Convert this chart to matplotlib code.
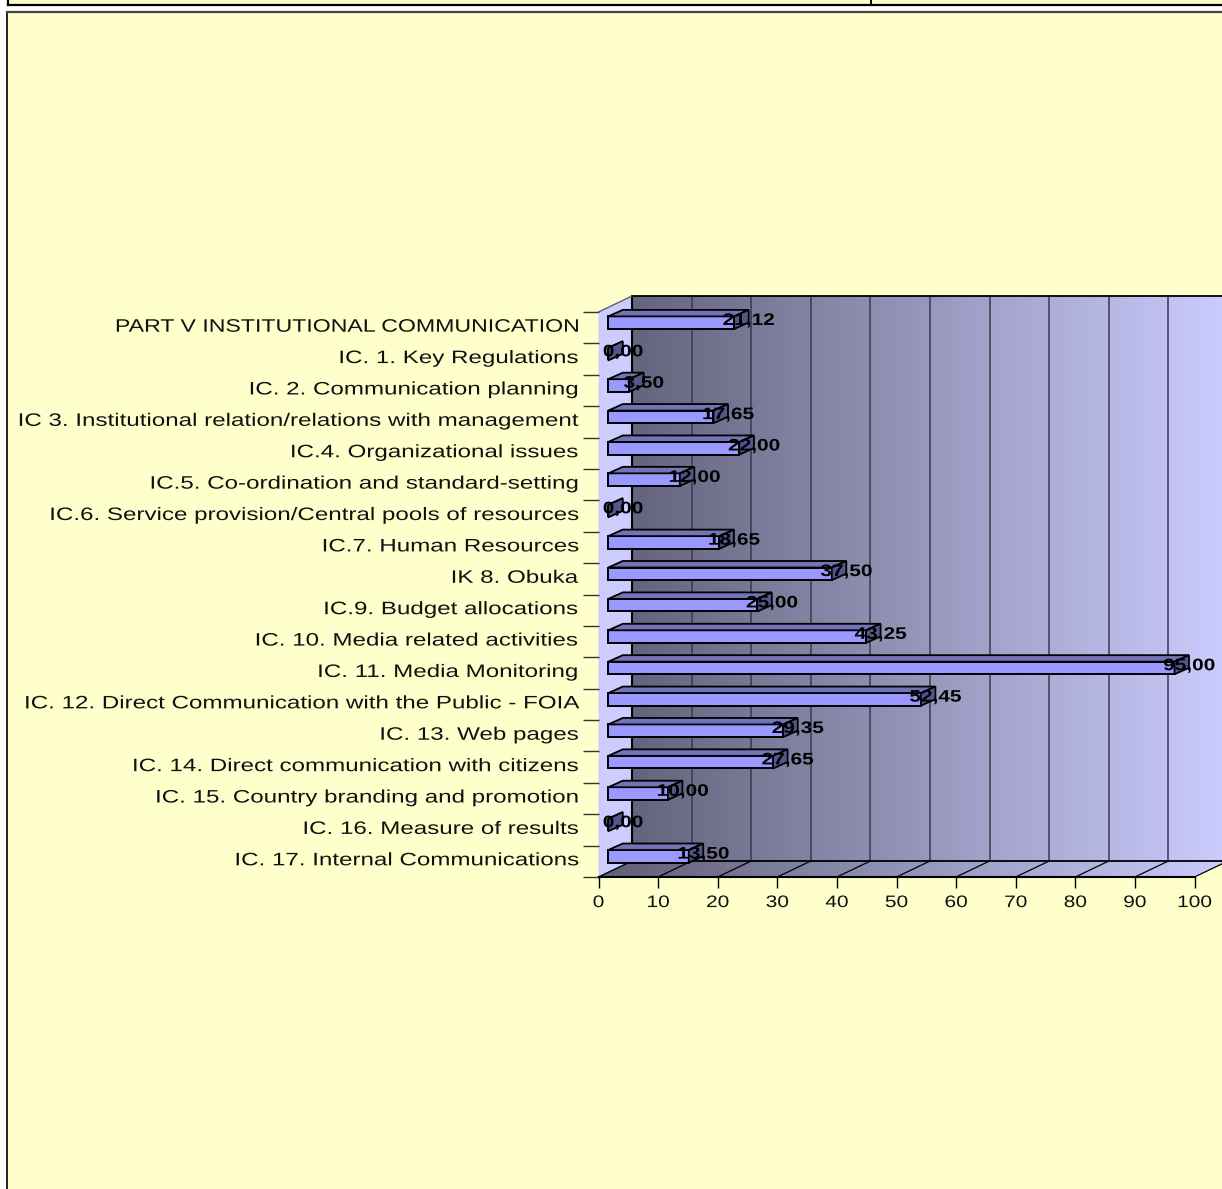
import numpy as np
import matplotlib
matplotlib.use("Agg")
import matplotlib.pyplot as plt
from matplotlib.colors import LinearSegmentedColormap
from matplotlib.patches import Polygon
from matplotlib.patheffects import AbstractPathEffect
from matplotlib.transforms import Affine2D

categories = [
    "PART V INSTITUTIONAL COMMUNICATION", "IC. 1. Key Regulations", "IC. 2. Communication planning",
    "IC 3. Institutional relation/relations with management", "IC.4. Organizational issues",
    "IC.5. Co-ordination and standard-setting", "IC.6. Service provision/Central pools of resources",
    "IC.7. Human Resources", "IK 8. Obuka", "IC.9. Budget allocations", "IC. 10. Media related activities",
    "IC. 11. Media Monitoring", "IC. 12. Direct Communication with the Public - FOIA", "IC. 13. Web pages",
    "IC. 14. Direct communication with citizens", "IC. 15. Country branding and promotion",
    "IC. 16. Measure of results", "IC. 17. Internal Communications",
]
values = [21.12, 0.00, 3.50, 17.65, 22.00, 12.00, 0.00, 18.65, 37.50, 25.00, 43.25, 95.00, 52.45, 29.35, 27.65, 10.00, 0.00, 13.50]
x_ticks = list(range(0, 101, 10))

W, H = 1222, 1189
BG = "#ffffcc"
fig = plt.figure(figsize=(W / 100, H / 100), dpi=100, facecolor="white")


class Stretch(AbstractPathEffect):
    """Widen a text horizontally about a display x position (the source font is a stretched Arial)."""
    def __init__(self, k, anchor, dy=0):
        super().__init__()
        self.k, self.anchor, self.dy = k, anchor, dy

    def draw_path(self, renderer, gc, tpath, affine, rgbFace=None):
        t = Affine2D().translate(-self.anchor, self.dy).scale(self.k, 1).translate(self.anchor, 0)
        renderer.draw_path(gc, tpath, affine + t, rgbFace)


# page frame
page = fig.add_axes([0, 0, 1, 1], zorder=0)
page.set_xlim(0, W); page.set_ylim(H, 0); page.axis("off")
page.fill([7, W, W, 7], [12, 12, H, H], color=BG, lw=0)
page.fill([8, W, W, 8], [0, 0, 4, 4], color=BG, lw=0)
page.plot([6.5, 6.5], [12, H], color="#222222", lw=1.4)
page.plot([6.5, W], [12, 12], color="#444444", lw=1.6)
page.plot([8, W], [4.5, 4.5], color="black", lw=1.6)
page.plot([8, 8], [0, 4.5], color="black", lw=1.6)
page.plot([871, 871], [0, 4.5], color="black", lw=1.4)

# plot axes: front plane of the 3D box
L, R, T, B = 598.5, 1194.5, 312.0, 877.0
ax = fig.add_axes([L / W, 1 - B / H, (R - L) / W, (B - T) / H], zorder=1)
n = len(categories)
ax.patch.set_visible(False)
for s in ax.spines.values():
    s.set_visible(False)

ux = (R - L) / 100
uy = (B - T) / n
# depth expressed in data units
DX, DY = 33.5 / ux, 16 / uy
FX, FY = 9.8 / ux, 5 / uy      # bar front-face offset
SX, SY = 14.5 / ux, 6.5 / uy   # bar depth
HALF = 6.3 / uy

top, bot = -0.5, n - 0.5
cmap = LinearSegmentedColormap.from_list("wall", ["#5e5e76", "#ccccff"])
grad = np.linspace(0, 1, 512).reshape(1, -1)

wall = Polygon([(DX, top - DY), (100 + DX, top - DY), (100 + DX, bot - DY), (DX, bot - DY)], closed=True, fc="none", lw=0)
floor = Polygon([(0, bot), (100, bot), (100 + DX, bot - DY), (DX, bot - DY)], closed=True, fc="none", lw=0)
ax.add_patch(wall); ax.add_patch(floor)
for clip in (wall, floor):
    im = ax.imshow(grad, cmap=cmap, aspect="auto", extent=(0, 100 + DX, bot, top - DY), zorder=1)
    im.set_clip_path(clip)
    im.set_clip_box(fig.bbox)
ax.set_xlim(0, 100)
ax.set_ylim(bot, top)

ax.add_patch(Polygon([(0, top), (DX, top - DY), (DX, bot - DY), (0, bot)], closed=True, fc="#ccccff", ec="none", zorder=1.5, clip_on=False))


def ln(xs, ys, **kw):
    kw.setdefault("clip_on", False)
    ax.plot(xs, ys, **kw)


for t in x_ticks[1:]:
    if t < 100:
        ln([t + DX, t + DX], [top - DY, bot - DY], color="#3a3a4c", lw=1.4, alpha=0.8, zorder=2)
    ln([t, t + DX], [bot, bot - DY], color="black", lw=0.9, zorder=2)
ln([0, DX], [bot, bot - DY], color="black", lw=1.0, zorder=2.1)
ln([DX, DX], [top - DY, bot - DY], color="black", lw=1.5, zorder=2.1)
ln([DX, 100 + DX], [top - DY, top - DY], color="black", lw=1.3, zorder=2.1)
ln([DX, 100 + DX], [bot - DY, bot - DY], color="black", lw=1.3, zorder=2.1)
ln([0, 100], [bot, bot], color="black", lw=1.5, zorder=2.1)
ln([0, DX], [top, top - DY], color="#555555", lw=0.9, zorder=2.1)

# bars
front, upper, side = "#9999ff", "#7373b8", "#55558c"
ys = np.arange(n)
ax.barh(ys - FY, values, height=2 * HALF, left=FX, color=front, edgecolor="black", linewidth=1.4, zorder=3, clip_on=False)
for y, v in zip(ys, values):
    yf = y - FY
    x1 = FX + v
    ax.add_patch(Polygon([(FX, yf - HALF), (x1, yf - HALF), (x1 + SX, yf - HALF - SY), (FX + SX, yf - HALF - SY)],
                         closed=True, fc=upper, ec="black", lw=1.3, zorder=3, clip_on=False))
    ax.add_patch(Polygon([(x1, yf - HALF), (x1 + SX, yf - HALF - SY), (x1 + SX, yf + HALF - SY), (x1, yf + HALF)],
                         closed=True, fc=side, ec="black", lw=1.3, zorder=3.1, clip_on=False))
    tx = x1 + SX
    txt = ax.text(tx, yf - SY * 0.5, f"{v:.2f}".replace(".", ","), ha="center", va="center",
                  family="Liberation Sans", fontweight="bold", fontsize=12, color="black", zorder=4, clip_on=False)
    txt.set_path_effects([Stretch(1.25, ax.transData.transform((tx, 0))[0], dy=-1)])

# axes
ax.set_xticks(x_ticks)
ax.set_yticks(ys)
ax.set_yticklabels(categories, family="Liberation Sans", fontsize=13, color="#111111")
ax.tick_params(axis="y", which="major", length=0, pad=15)
ax.set_yticks(np.arange(n + 1) - 0.5, minor=True)
ax.tick_params(axis="y", which="minor", length=11.5, width=1.0, color="#333333")
ax.tick_params(axis="x", length=8, width=1.0, pad=5)
ax.set_xticklabels([str(t) for t in x_ticks], family="Liberation Sans", fontsize=12, color="#111111")
right_edge = L - 15 * 100 / 72
for lab in ax.get_yticklabels():
    k = 1.28 if lab.get_text().isupper() else 1.337
    lab.set_path_effects([Stretch(k, right_edge, dy=2.5)])
for lab, t in zip(ax.get_xticklabels(), x_ticks):
    lab.set_path_effects([Stretch(1.255, ax.transData.transform((t, 0))[0])])

fig.savefig("out.png", dpi=100, facecolor=fig.get_facecolor())
